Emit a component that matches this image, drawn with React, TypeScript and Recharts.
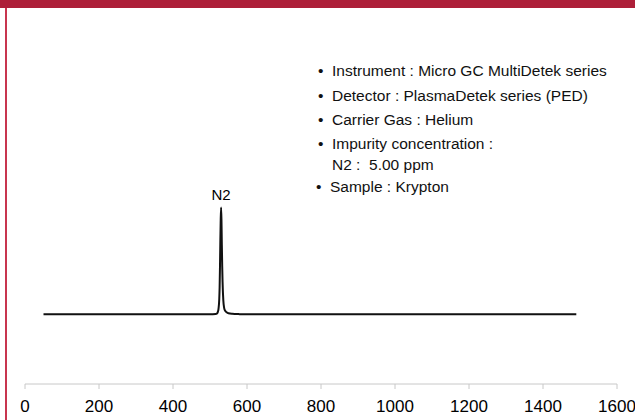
import React from 'react';
import { LineChart, Line, XAxis, YAxis, ReferenceDot } from 'recharts';

// retention time (s) and detector signal
const times = [50, 300, 500, 515, 519, 521, 523, 525, 526, 527, 528, 529, 530, 531, 532, 533, 534, 536, 538, 540, 545, 550, 560, 580, 600, 1000, 1490];
const signal = [0, 0, 0, 0.2, 0.8, 2, 5, 14, 25, 45, 70, 90, 100, 88, 65, 45, 30, 13, 6.5, 3.8, 1.8, 0.9, 0.4, 0.1, 0, 0, 0];

const xTicks = [0, 200, 400, 600, 800, 1000, 1200, 1400, 1600];

const notes = [
  'Instrument : Micro GC MultiDetek series',
  'Detector : PlasmaDetek series (PED)',
  'Carrier Gas : Helium',
  'Impurity concentration :',
  'Sample : Krypton',
];

const data = times.map((t, i) => ({ t, v: signal[i] }));

const FONT = '"Liberation Sans", Arial, sans-serif';
const RED = '#AD1F39';

const noteTops = [62, 87, 111, 135, 178];

const App = () => {
  return (
    <div style={{ position: 'absolute', left: 0, top: 0, width: 635, height: 420, background: '#fff', fontFamily: FONT, overflow: 'hidden' }}>
      <div style={{ position: 'absolute', left: 0, top: 0, width: 635, height: 8, background: RED }} />
      <div style={{ position: 'absolute', left: 5, top: 8, width: 2, height: 412, background: '#C8354F' }} />
      <LineChart width={635} height={420} data={data} margin={{ top: 48, right: 18, left: 25, bottom: 0 }}>
        <XAxis
          dataKey="t"
          type="number"
          domain={[0, 1600]}
          ticks={xTicks}
          height={36}
          tickSize={5}
          tickMargin={11}
          axisLine={{ stroke: '#c8c8c8' }}
          tickLine={{ stroke: '#c8c8c8' }}
          tick={{ fill: '#000', fontSize: 17, fontFamily: FONT }}
        />
        <YAxis hide domain={[-65.4, 249.6]} />
        <Line dataKey="v" type="monotone" stroke="#111" strokeWidth={2} dot={false} isAnimationActive={false} />
        <ReferenceDot x={530} y={100} r={0} label={{ value: 'N2', position: 'top', offset: 8, fill: '#000', fontSize: 15, fontFamily: FONT }} />
      </LineChart>
      {notes.map((n, i) => (
        <div key={n} style={{ position: 'absolute', left: i === 4 ? 316 : 318, top: noteTops[i], fontSize: 15.5, color: '#111', whiteSpace: 'nowrap' }}>
          <span style={{ display: 'inline-block', width: 14 }}>•</span>
          {n}
          {i === 3 && <div style={{ paddingLeft: 14, marginTop: 3 }}>N2 :&nbsp; 5.00 ppm</div>}
        </div>
      ))}
    </div>
  );
};

export default App;
